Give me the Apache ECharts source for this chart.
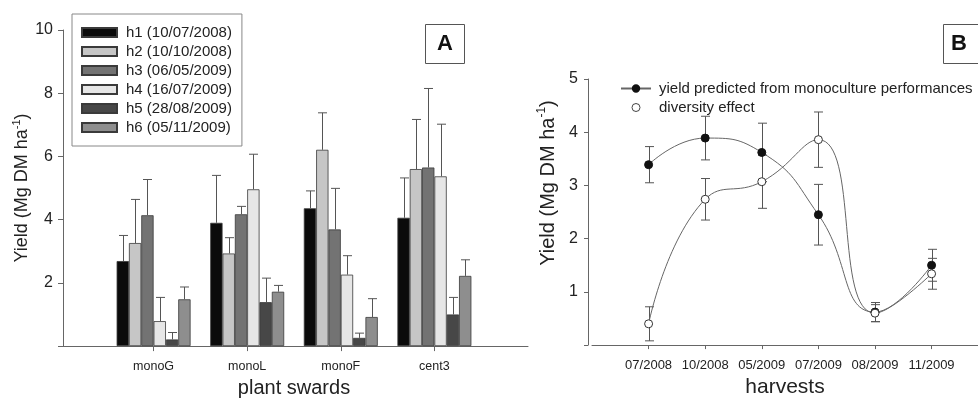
<!DOCTYPE html>
<html><head><meta charset="utf-8">
<script src="https://cdn.jsdelivr.net/npm/echarts@6/dist/echarts.min.js"></script>
<style>html,body{margin:0;padding:0;background:#fff}#c{width:978px;height:403px}</style>
</head><body><div id="c"></div>
<script>
// ---- Panel A data ----
const swards = ['monoG', 'monoL', 'monoF', 'cent3'];
const harvestNames = ['h1 (10/07/2008)', 'h2 (10/10/2008)', 'h3 (06/05/2009)', 'h4 (16/07/2009)', 'h5 (28/08/2009)', 'h6 (05/11/2009)'];
const h1 = [2.69, 3.90, 4.36, 4.06];
const h2 = [3.26, 2.93, 6.21, 5.60];
const h3 = [4.14, 4.17, 3.69, 5.65];
const h4 = [0.79, 4.96, 2.26, 5.37];
const h5 = [0.21, 1.39, 0.26, 1.00];
const h6 = [1.48, 1.72, 0.92, 2.22];
const h1Err = [0.81, 1.50, 0.55, 1.26];
const h2Err = [1.38, 0.50, 1.17, 1.57];
const h3Err = [1.13, 0.25, 1.30, 2.50];
const h4Err = [0.75, 1.11, 0.60, 1.65];
const h5Err = [0.22, 0.76, 0.15, 0.54];
const h6Err = [0.39, 0.20, 0.58, 0.51];
const yTicksA = [0, 2, 4, 6, 8, 10];

// ---- Panel B data ----
const harvests = ['07/2008', '10/2008', '05/2009', '07/2009', '08/2009', '11/2009'];
const predicted = [3.39, 3.89, 3.62, 2.45, 0.62, 1.50];
const predictedErr = [0.34, 0.41, 0.55, 0.57, 0.18, 0.30];
const diversity = [0.40, 2.74, 3.07, 3.86, 0.60, 1.34];
const diversityErr = [0.32, 0.39, 0.50, 0.52, 0.16, 0.29];
const yTicksB = [0, 1, 2, 3, 4, 5];
const predName = 'yield predicted from monoculture performances';
const divName = 'diversity effect';

const FONT = 'Liberation Sans, Arial, Helvetica, sans-serif';
const TXT = '#222';
const AX = '#666';
const barColors = ['#0b0b0b', '#c6c6c6', '#737373', '#e6e6e6', '#474747', '#8e8e8e'];
const vals = [h1, h2, h3, h4, h5, h6];
const errs = [h1Err, h2Err, h3Err, h4Err, h5Err, h6Err];
const pad = a => ['-', ...a, '-'];
const catsA = ['', ...swards, ''];
const harvestIdx = harvests.map((_, i) => i);
const BAR_FRAC = 0.79;

const barSeries = vals.map((v, s) => ({
  type: 'bar', name: harvestNames[s], xAxisIndex: 0, yAxisIndex: 0,
  data: pad(v), barGap: '0%', barCategoryGap: ((1 - BAR_FRAC) * 100) + '%',
  itemStyle: { color: barColors[s], borderColor: '#3a3a3a', borderWidth: 0.8 },
  silent: true
}));

const errDataA = [];
vals.forEach((v, s) => v.forEach((y, i) => errDataA.push([i + 1, y, y + errs[s][i], s])));

const errDataB = [];
predicted.forEach((y, i) => errDataB.push([i, y - predictedErr[i], y + predictedErr[i]]));
diversity.forEach((y, i) => errDataB.push([i, y - diversityErr[i], y + diversityErr[i]]));

const ERR = '#555';
const chart = echarts.init(document.getElementById('c'), null, { renderer: 'canvas' });
chart.setOption({
  animation: false,
  textStyle: { fontFamily: FONT, color: TXT },
  title: [
    { text: 'A', left: 425, top: 24, padding: [9, 12, 9, 12], borderColor: '#555', borderWidth: 1,
      textStyle: { fontSize: 22, fontWeight: 'bold', color: '#111', fontFamily: FONT } },
    { text: 'B', left: 943, top: 24, padding: [9, 20, 9, 8], borderColor: '#555', borderWidth: 1,
      textStyle: { fontSize: 22, fontWeight: 'bold', color: '#111', fontFamily: FONT } }
  ],
  legend: [
    { orient: 'vertical', left: 72, top: 14, data: harvestNames, icon: 'rect',
      itemWidth: 35, itemHeight: 9, itemGap: 4,
      borderColor: '#888', borderWidth: 1, padding: [11, 10, 11, 9],
      textStyle: { fontSize: 15, color: TXT, lineHeight: 15, padding: [0, 0, 0, 4] },
      selectedMode: false },
    { orient: 'vertical', left: 615, top: 76,
      data: [{ name: predName },
             { name: divName, icon: 'circle', itemStyle: { color: '#fff', borderColor: '#444', borderWidth: 1 } }],
      itemWidth: 30, itemHeight: 8, itemGap: 4,
      textStyle: { fontSize: 15, color: TXT, lineHeight: 15, padding: [0, 0, 0, 3] },
      selectedMode: false }
  ],
  grid: [
    { left: 60, top: 30, width: 468, height: 324 },
    { left: 592, top: 79, width: 386, height: 276 }
  ],
  xAxis: [
    { type: 'category', gridIndex: 0, data: catsA, boundaryGap: false,
      axisLine: { lineStyle: { color: AX, width: 1 } },
      axisTick: { length: 5, interval: (i, v) => v !== '', lineStyle: { color: AX } },
      axisLabel: { interval: 0, fontSize: 12.5, margin: 14, color: TXT },
      name: 'plant swards', nameLocation: 'middle', nameGap: 30,
      nameTextStyle: { fontSize: 20, color: TXT } },
    { type: 'value', gridIndex: 1, min: -1, max: 5.82,
      splitLine: { show: false },
      axisLine: { onZero: false, lineStyle: { color: AX, width: 1 } },
      axisTick: { length: 4, customValues: harvestIdx, lineStyle: { color: AX } },
      axisLabel: { customValues: harvestIdx, fontSize: 13, margin: 14, color: TXT,
        formatter: v => harvests[Math.round(v)] || '' },
      name: 'harvests', nameLocation: 'middle', nameGap: 29,
      nameTextStyle: { fontSize: 21, color: TXT } }
  ],
  yAxis: [
    { type: 'value', gridIndex: 0, min: yTicksA[0], max: yTicksA[yTicksA.length - 1], interval: 2,
      offset: -3,
      axisLine: { show: true, onZero: false, lineStyle: { color: AX } },
      axisTick: { show: true, length: 5, lineStyle: { color: AX } },
      splitLine: { show: false },
      axisLabel: { fontSize: 16, margin: 10, color: TXT, formatter: v => v === 0 ? '' : String(v) },
      name: '{a|Yield (Mg DM ha}{s|-1}{a|)}', nameLocation: 'middle', nameRotate: 90, nameGap: 30,
      nameTextStyle: { rich: {
        a: { fontSize: 18, color: TXT, fontFamily: FONT, lineHeight: 20, verticalAlign: 'bottom' },
        s: { fontSize: 11, color: TXT, fontFamily: FONT, lineHeight: 20, verticalAlign: 'top', padding: [0, 0, 8, 0] } } } },
    { type: 'value', gridIndex: 1, min: yTicksB[0], max: yTicksB[yTicksB.length - 1], interval: 1,
      offset: 4,
      axisLine: { show: true, onZero: false, lineStyle: { color: AX } },
      axisTick: { show: true, length: 4, lineStyle: { color: AX } },
      splitLine: { show: false },
      axisLabel: { fontSize: 16, margin: 10, color: TXT, formatter: v => v === 0 ? '' : String(v) },
      name: '{a|Yield (Mg DM ha}{s|-1}{a|)}', nameLocation: 'middle', nameRotate: 90, nameGap: 30,
      nameTextStyle: { padding: [0, 0, 0, 58], rich: {
        a: { fontSize: 20, color: TXT, fontFamily: FONT, lineHeight: 22, verticalAlign: 'bottom' },
        s: { fontSize: 12, color: TXT, fontFamily: FONT, lineHeight: 22, verticalAlign: 'top', padding: [0, 0, 9, 0] } } } }
  ],
  series: [
    ...barSeries,
    { type: 'custom', xAxisIndex: 0, yAxisIndex: 0, data: errDataA, silent: true, z: 3,
      renderItem(params, api) {
        const cat = api.value(0), top = api.value(1), hi = api.value(2), s = api.value(3);
        const band = api.size([1, 0])[0];
        const bw = band * BAR_FRAC / 6;
        const c = api.coord([cat, top]);
        const h = api.coord([cat, hi]);
        const x = Math.round(c[0] + (s - 2.5) * bw) + 0.5;
        const cap = 4.5;
        return { type: 'group', children: [
          { type: 'line', shape: { x1: x, y1: c[1], x2: x, y2: h[1] }, style: { stroke: ERR, lineWidth: 1 } },
          { type: 'line', shape: { x1: x - cap, y1: h[1], x2: x + cap, y2: h[1] }, style: { stroke: ERR, lineWidth: 1 } }
        ] };
      } },
    { type: 'custom', xAxisIndex: 1, yAxisIndex: 1, data: errDataB, silent: true, z: 1,
      renderItem(params, api) {
        const cat = api.value(0);
        const lo = api.coord([cat, api.value(1)]);
        const hi = api.coord([cat, api.value(2)]);
        const x = Math.round(lo[0]) + 0.5;
        const cap = 4.5;
        return { type: 'group', children: [
          { type: 'line', shape: { x1: x, y1: lo[1], x2: x, y2: hi[1] }, style: { stroke: ERR, lineWidth: 1 } },
          { type: 'line', shape: { x1: x - cap, y1: hi[1], x2: x + cap, y2: hi[1] }, style: { stroke: ERR, lineWidth: 1 } },
          { type: 'line', shape: { x1: x - cap, y1: lo[1], x2: x + cap, y2: lo[1] }, style: { stroke: ERR, lineWidth: 1 } }
        ] };
      } },
    { type: 'line', name: predName, xAxisIndex: 1, yAxisIndex: 1,
      data: predicted.map((v, i) => [i, v]),
      smooth: 0.5, symbol: 'circle', symbolSize: 8, showAllSymbol: true, z: 3,
      lineStyle: { color: '#666', width: 1 },
      itemStyle: { color: '#111', borderColor: '#111', borderWidth: 1 } },
    { type: 'line', name: divName, xAxisIndex: 1, yAxisIndex: 1,
      data: diversity.map((v, i) => [i, v]),
      smooth: 0.5, symbol: 'circle', symbolSize: 8, showAllSymbol: true, z: 3,
      lineStyle: { color: '#666', width: 1 },
      itemStyle: { color: '#fff', borderColor: '#333', borderWidth: 1 } }
  ]
});
</script>
</body></html>
